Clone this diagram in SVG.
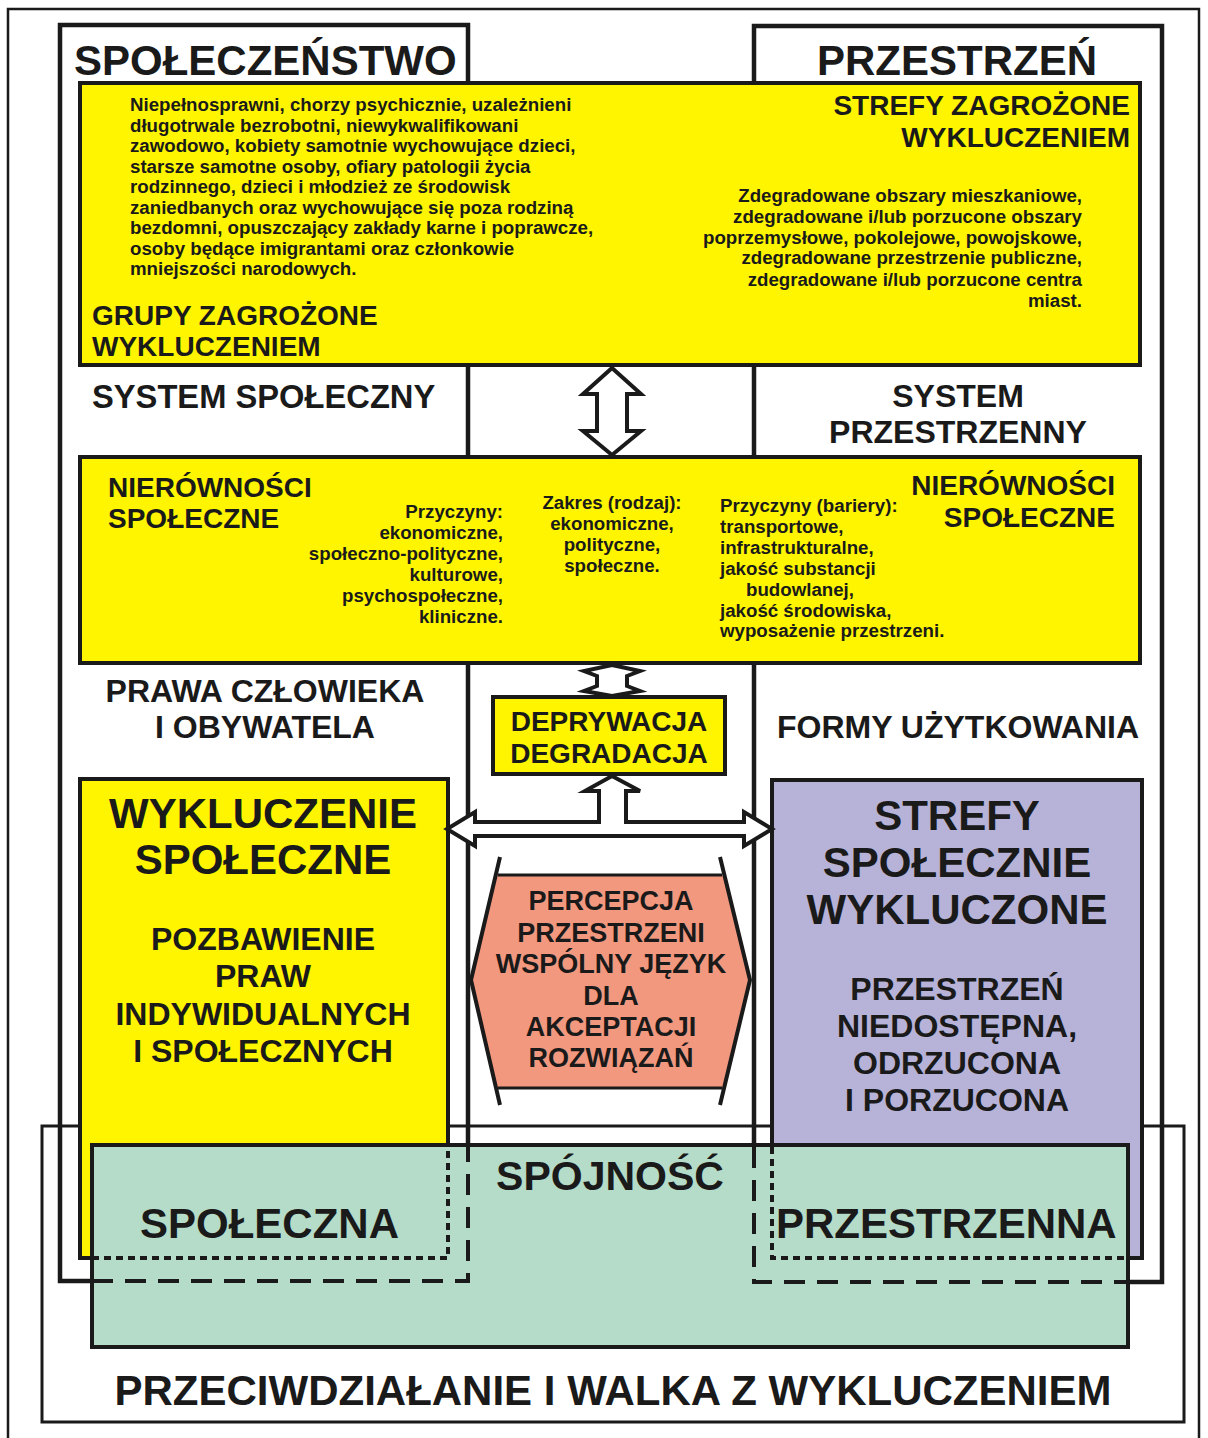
<svg xmlns="http://www.w3.org/2000/svg" width="1208" height="1438" viewBox="0 0 1208 1438">
<defs>
<style>
text{font-family:"Liberation Sans",Arial,sans-serif;font-weight:bold;fill:#1a1a1a}
.t42{font-size:42px}
.t40{font-size:41px}
.t32{font-size:32px}
.t28{font-size:28px}
.t27{font-size:27px}
.s{font-size:18.7px}
.m{text-anchor:middle}
.e{text-anchor:end}
.line{fill:none;stroke:#1a1a1a}
.box{stroke:#1a1a1a;stroke-width:4}
.yellow{fill:#fff500}
.purple{fill:#b7b3d8}
.green{fill:#b5dcc9}
.arrow{fill:#fff;stroke:#1a1a1a;stroke-width:4;stroke-linejoin:miter}
.dash{fill:none;stroke:#1a1a1a;stroke-width:4;stroke-dasharray:21 12}
.dot{fill:none;stroke:#1a1a1a;stroke-width:4;stroke-dasharray:7 5}
</style>
</defs>

<rect x="0" y="0" width="1208" height="1438" fill="#fff"/>

<!-- page frame -->
<rect class="line" x="8" y="9" width="1191" height="1440" stroke-width="2.5"/>

<!-- counteraction frame (bottom) -->
<g id="frame-przeciwdzialanie">
  <rect class="line" x="42" y="1126" width="1142" height="296" stroke-width="3"/>
</g>

<!-- society / space columns -->
<g id="spoleczenstwo">
  <rect class="line" x="60" y="25" width="408" height="1256" stroke-width="4.5"/>
  <text class="t42" x="74" y="75">SPOŁECZEŃSTWO</text>
</g>
<g id="przestrzen">
  <rect class="line" x="754" y="26" width="408" height="1256" stroke-width="4.5"/>
  <text class="t42 m" x="957" y="75">PRZESTRZEŃ</text>
</g>

<!-- column labels -->
<g id="system-spoleczny"><text class="t32" x="92" y="408" style="font-size:32.7px">SYSTEM SPOŁECZNY</text></g>
<g id="system-przestrzenny">
  <text class="t32 m" x="958" y="407">SYSTEM</text>
  <text class="t32 m" x="958" y="443">PRZESTRZENNY</text>
</g>
<g id="prawa">
  <text class="t32 m" x="265" y="702">PRAWA CZŁOWIEKA</text>
  <text class="t32 m" x="265" y="738">I OBYWATELA</text>
</g>
<g id="formy"><text class="t32 m" x="958" y="738">FORMY UŻYTKOWANIA</text></g>

<!-- top yellow band: groups and zones at risk -->
<g id="zagrozone">
  <rect class="box yellow" x="80" y="83" width="1060" height="282"/>
  <text class="s" x="130" y="111">Niepełnosprawni, chorzy psychicznie, uzależnieni</text>
  <text class="s" x="130" y="131.5">długotrwale bezrobotni, niewykwalifikowani</text>
  <text class="s" x="130" y="152">zawodowo, kobiety samotnie wychowujące dzieci,</text>
  <text class="s" x="130" y="172.5">starsze samotne osoby, ofiary patologii życia</text>
  <text class="s" x="130" y="193">rodzinnego, dzieci i młodzież ze środowisk</text>
  <text class="s" x="130" y="213.5">zaniedbanych oraz wychowujące się poza rodziną</text>
  <text class="s" x="130" y="234">bezdomni, opuszczający zakłady karne i poprawcze,</text>
  <text class="s" x="130" y="254.5">osoby będące imigrantami oraz członkowie</text>
  <text class="s" x="130" y="275">mniejszości narodowych.</text>
  <text class="t28" x="92" y="325">GRUPY ZAGROŻONE</text>
  <text class="t28" x="92" y="356">WYKLUCZENIEM</text>
  <text class="t28 e" x="1130" y="115">STREFY ZAGROŻONE</text>
  <text class="t28 e" x="1130" y="147">WYKLUCZENIEM</text>
  <text class="s e" x="1082" y="202">Zdegradowane obszary mieszkaniowe,</text>
  <text class="s e" x="1082" y="223">zdegradowane i/lub porzucone obszary</text>
  <text class="s e" x="1082" y="243.5">poprzemysłowe, pokolejowe, powojskowe,</text>
  <text class="s e" x="1082" y="264">zdegradowane przestrzenie publiczne,</text>
  <text class="s e" x="1082" y="285.5">zdegradowane i/lub porzucone centra</text>
  <text class="s e" x="1082" y="306.5">miast.</text>
</g>

<!-- middle yellow band: inequalities -->
<g id="nierownosci">
  <rect class="box yellow" x="80" y="457" width="1060" height="206"/>
  <text class="t28" x="108" y="497">NIERÓWNOŚCI</text>
  <text class="t28" x="108" y="528">SPOŁECZNE</text>
  <text class="t28 e" x="1115" y="495">NIERÓWNOŚCI</text>
  <text class="t28 e" x="1115" y="527">SPOŁECZNE</text>
  <text class="s e" x="503" y="518">Przyczyny:</text>
  <text class="s e" x="503" y="539">ekonomiczne,</text>
  <text class="s e" x="503" y="560">społeczno-polityczne,</text>
  <text class="s e" x="503" y="581">kulturowe,</text>
  <text class="s e" x="503" y="602">psychospołeczne,</text>
  <text class="s e" x="503" y="623">kliniczne.</text>
  <text class="s m" x="612" y="509">Zakres (rodzaj):</text>
  <text class="s m" x="612" y="530">ekonomiczne,</text>
  <text class="s m" x="612" y="551">polityczne,</text>
  <text class="s m" x="612" y="572">społeczne.</text>
  <text class="s" x="720" y="512">Przyczyny (bariery):</text>
  <text class="s" x="720" y="533">transportowe,</text>
  <text class="s" x="720" y="554">infrastrukturalne,</text>
  <text class="s" x="720" y="575">jakość substancji</text>
  <text class="s" x="746" y="596">budowlanej,</text>
  <text class="s" x="720" y="617">jakość środowiska,</text>
  <text class="s" x="720" y="637">wyposażenie przestrzeni.</text>
</g>

<!-- deprivation box -->
<g id="deprywacja">
  <rect class="box yellow" x="493" y="697" width="232" height="77"/>
  <text class="t28 m" x="609" y="731">DEPRYWACJA</text>
  <text class="t28 m" x="609" y="763">DEGRADACJA</text>
</g>

<!-- social exclusion -->
<g id="wykluczenie">
  <rect class="box yellow" x="80" y="779" width="368" height="479"/>
  <text class="t42 m" x="263" y="828">WYKLUCZENIE</text>
  <text class="t42 m" x="263" y="874">SPOŁECZNE</text>
  <text class="t32 m" x="263" y="950">POZBAWIENIE</text>
  <text class="t32 m" x="263" y="987">PRAW</text>
  <text class="t32 m" x="263" y="1025">INDYWIDUALNYCH</text>
  <text class="t32 m" x="263" y="1062">I SPOŁECZNYCH</text>
</g>

<!-- excluded zones -->
<g id="strefy-wykluczone">
  <rect class="box purple" x="772" y="780" width="370" height="478"/>
  <text class="t42 m" x="957" y="830">STREFY</text>
  <text class="t42 m" x="957" y="877">SPOŁECZNIE</text>
  <text class="t42 m" x="957" y="924">WYKLUCZONE</text>
  <text class="t32 m" x="957" y="1000">PRZESTRZEŃ</text>
  <text class="t32 m" x="957" y="1037">NIEDOSTĘPNA,</text>
  <text class="t32 m" x="957" y="1074">ODRZUCONA</text>
  <text class="t32 m" x="957" y="1111">I PORZUCONA</text>
</g>

<!-- perception hexagon -->
<g id="percepcja">
  <polygon points="496,875 724,875 750,980 724,1088 496,1088 471,980" fill="#f2987f"/>
  <path class="line" stroke-width="3" d="M498,875 H722 M498,1088 H722"/>
  <path class="line" stroke-width="4" d="M500,857 L471,980 L500,1105 M720,857 L750,980 L720,1105"/>
  <text class="t27 m" x="611" y="910">PERCEPCJA</text>
  <text class="t27 m" x="611" y="942">PRZESTRZENI</text>
  <text class="t27 m" x="611" y="973">WSPÓLNY JĘZYK</text>
  <text class="t27 m" x="611" y="1005">DLA</text>
  <text class="t27 m" x="611" y="1036">AKCEPTACJI</text>
  <text class="t27 m" x="611" y="1067">ROZWIĄZAŃ</text>
</g>

<!-- connectors: hollow block arrows -->
<g id="connectors">
  <polygon class="arrow" points="612,368 641,394 627,394 627,431 641,431 612,455 583,431 597,431 597,394 583,394"/>
  <polygon class="arrow" points="612,665 640,671 627,676 627,686 640,691 612,696 584,691 597,686 597,676 584,671"/>
  <polygon class="arrow" points="612,776 640,791 626,791 626,822 744,822 744,812 772,829 744,846 744,836 475,836 475,846 447,829 475,812 475,822 599,822 599,791 585,791"/>
</g>

<!-- cohesion -->
<g id="spojnosc">
  <rect class="box green" x="92" y="1145" width="1036" height="202"/>
  <path class="dash" d="M92,1281 H468 V1147"/>
  <path class="dash" d="M754,1147 V1282 H1128"/>
  <path class="dot" d="M92,1258 H448 V1147"/>
  <path class="dot" d="M772,1147 V1258 H1128"/>
  <text class="t40 m" x="610" y="1190">SPÓJNOŚĆ</text>
  <text class="t42" x="140" y="1238">SPOŁECZNA</text>
  <text class="t42" x="776" y="1238">PRZESTRZENNA</text>
</g>

<g id="przeciwdzialanie-label">
  <text class="t42 m" x="613" y="1405">PRZECIWDZIAŁANIE I WALKA Z WYKLUCZENIEM</text>
</g>
</svg>
